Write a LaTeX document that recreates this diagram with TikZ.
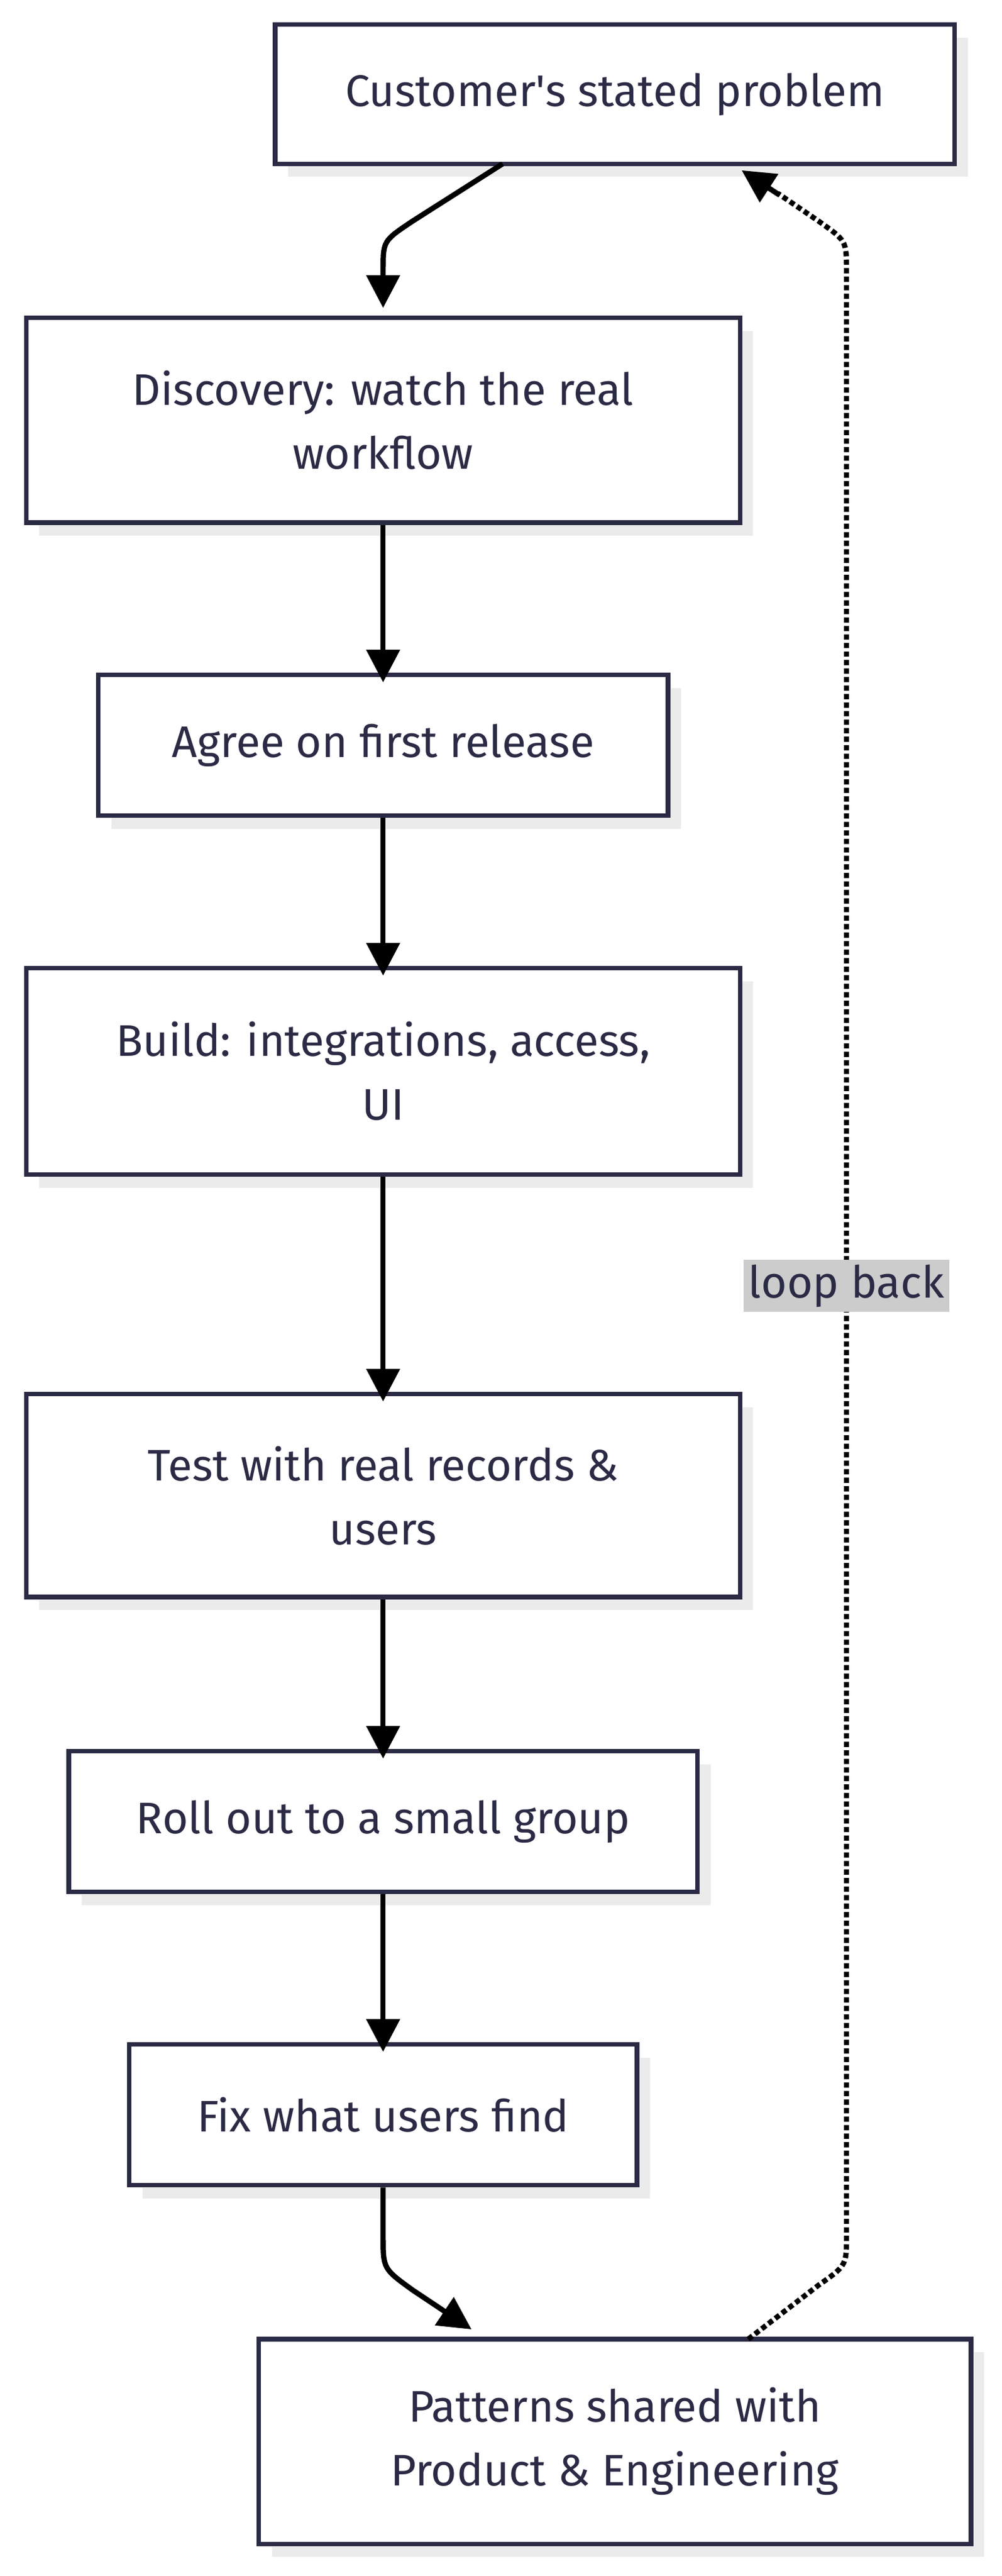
\documentclass[tikz,border=0pt]{standalone}
\usepackage{fontspec}
\setmainfont{Fira Sans}
\usetikzlibrary{arrows.meta}
\definecolor{ink}{HTML}{2B2A45}
\begin{document}
\begin{tikzpicture}[x=1pt,y=-1pt,
  box/.style={draw=ink,line width=2.8pt,fill=white,text=ink,align=center,inner sep=0pt,
    font=\fontsize{27}{39}\selectfont},
  arr/.style={line width=3.2pt,-{Triangle[length=20pt,width=20pt]}}]
\useasboundingbox (0,0) rectangle (612,1572.6);
\newcommand{\bx}[6]{%
  \fill[black!8] (#2+8,#4+8) rectangle (#3+8,#5+8);
  \node[box,minimum width=#3-#2,minimum height=#5-#4] (#1) at ({(#2+#3)/2},{(#4+#5)/2}) {#6};}
\bx{a}{168}{583}{15}{100}{Customer\textquotesingle s stated problem}
\bx{b}{16}{452}{194}{319}{Discovery: watch the real\\workflow}
\bx{c}{60}{408}{412}{498}{Agree on first release}
\bx{d}{16}{452}{591}{717}{Build: integrations, access,\\UI}
\bx{e}{16}{452}{851}{975}{Test with real records \&\\users}
\bx{f}{42}{426}{1069}{1155}{Roll out to a small group}
\bx{g}{79}{389}{1248}{1334}{Fix what users find}
\bx{h}{158}{593}{1428}{1553}{Patterns shared with\\Product \& Engineering}
\coordinate (a1) at (307,100);
\draw[arr] (a1) -- (252,135) .. controls (234,147) .. (234,165) -- (234,188);
\draw[arr] (b.south) -- ([yshift=-6pt]c.north);
\draw[arr] (c.south) -- ([yshift=-6pt]d.north);
\draw[arr] (d.south) -- ([yshift=-6pt]e.north);
\draw[arr] (e.south) -- ([yshift=-6pt]f.north);
\draw[arr] (f.south) -- ([yshift=-6pt]g.north);
\coordinate (h1) at (288,1422);
\draw[arr] (g.south) -- (234,1365) .. controls (234,1385) .. (252,1398) -- (h1);
\coordinate (h2) at (457,1428);
\coordinate (a2) at (453,104);
\draw[line width=3.2pt,dotted] (h2) -- (500,1395) .. controls (517,1383) .. (517,1365) -- (517,165)
   .. controls (517,147) .. (500,135) -- (475,118);
\draw[line width=3.2pt,-{Triangle[length=20pt,width=20pt]}] (476,119) -- (a2);
\node[fill=black!20,text=ink,inner sep=3pt,font=\fontsize{27}{30}\selectfont] at (517,785) {loop back};
\end{tikzpicture}
\end{document}
